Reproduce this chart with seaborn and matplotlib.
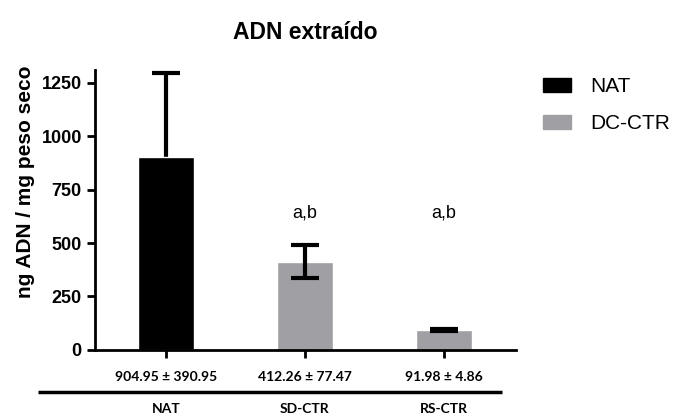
import matplotlib
matplotlib.use("Agg")
import matplotlib.pyplot as plt
import seaborn as sns
import pandas as pd

GROUPS = ["NAT", "SD-CTR", "RS-CTR"]
MEANS = [904.95, 412.26, 91.98]
SDS = [390.95, 77.47, 4.86]
SERIES = ["NAT", "DC-CTR", "DC-CTR"]
SIG_LABELS = ["", "a,b", "a,b"]
SIG_Y = 640
Y_TICKS = [0, 250, 500, 750, 1000, 1250]

PALETTE = {"NAT": "#000000", "DC-CTR": "#a0a0a4"}

sns.set_theme(style="ticks")
plt.rcParams["font.family"] = ["Liberation Sans", "DejaVu Sans"]
plt.rcParams.update({
    "text.color": "black",
    "axes.labelcolor": "black",
    "xtick.color": "black",
    "ytick.color": "black",
})

df = pd.DataFrame({"Group": GROUPS, "Mean": MEANS, "SD": SDS, "Series": SERIES})

fig = plt.figure(figsize=(6.74, 4.18), dpi=100)
ax = fig.add_axes([0.141, 0.163, 0.625, 0.670])

sns.barplot(data=df, x="Group", y="Mean", hue="Series", palette=PALETTE,
            dodge=False, width=0.4, ax=ax, legend=False, errorbar=None)

# error bars; NAT's lower half is hidden behind its black bar
for i, row in df.iterrows():
    z = 0.5 if row["Group"] == "NAT" else 3
    ax.errorbar(i, row["Mean"], yerr=row["SD"], fmt="none",
                ecolor="black", elinewidth=3, capsize=10, capthick=3,
                zorder=z)

for i, lab in enumerate(SIG_LABELS):
    if lab:
        ax.text(i, SIG_Y, lab, ha="center", va="center", fontsize=13)

ax.set_xlim(-0.51, 2.52)
ax.set_ylim(0, 1311)
ax.set_yticks(Y_TICKS)
ax.set_yticklabels([str(v) for v in Y_TICKS], fontweight="bold", fontsize=13)
ax.set_xticks(range(len(GROUPS)))
ax.set_xticklabels([])
ax.set_xlabel("")
ax.set_ylabel("ng ADN / mg peso seco", fontsize=15, fontweight="bold")
ax.yaxis.set_label_coords(-0.142, 0.6)
ax.tick_params(width=2, length=6)
for side in ["left", "bottom"]:
    ax.spines[side].set_linewidth(2)
    ax.spines[side].set_color("black")
sns.despine(ax=ax)

ax.set_title("ADN extraído", fontsize=16.5, fontweight="bold", pad=22)

# summary table under the axis
trans = ax.get_xaxis_transform()
for i, (m, s) in enumerate(zip(MEANS, SDS)):
    ax.text(i, -0.096, f"{m:.2f} ± {s:.2f}", transform=trans, ha="center",
            va="center", fontsize=10, fontweight="bold", family="Lato")
    ax.text(i, -0.212, GROUPS[i], transform=trans, ha="center",
            va="center", fontsize=10, fontweight="bold", family="Lato")
ax.plot([-0.92, 2.42], [-0.150, -0.150], transform=trans, color="black",
        lw=2.5, clip_on=False, solid_capstyle="butt")

handles = [plt.Rectangle((0, 0), 1, 1, color=PALETTE[k]) for k in PALETTE]
fig.legend(handles, list(PALETTE), loc="upper left", bbox_to_anchor=(0.806, 0.815),
           frameon=False, fontsize=15, handlelength=1.35, handleheight=0.67,
           labelspacing=0.85, handletextpad=0.9, borderpad=0, borderaxespad=0)

fig.savefig("out.png", dpi=100)
